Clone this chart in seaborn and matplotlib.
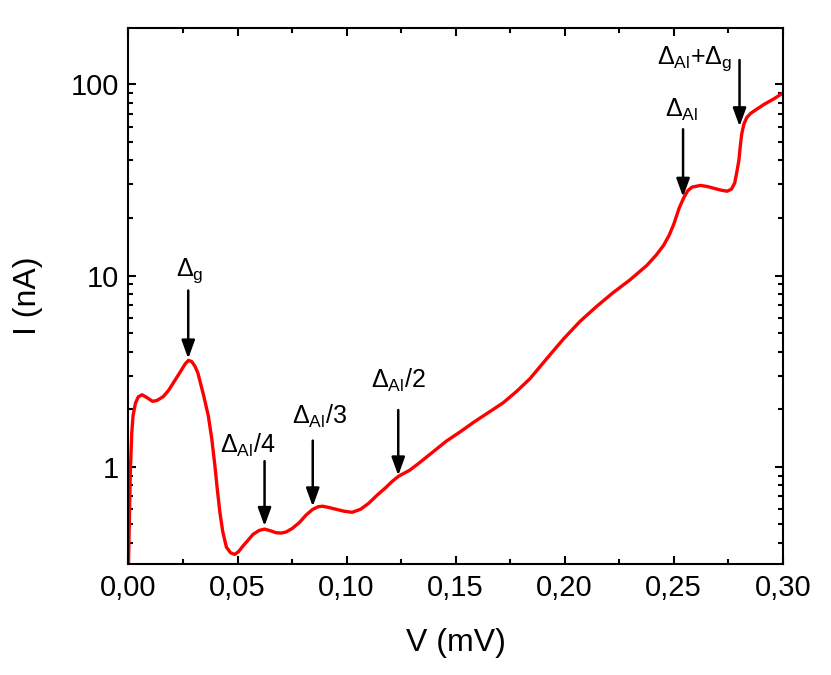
import matplotlib

matplotlib.use("Agg")
import matplotlib.pyplot as plt
import numpy as np
import pandas as pd
import seaborn as sns
from matplotlib.ticker import FixedLocator, FuncFormatter, LogLocator, NullFormatter

# I-V curve (V in mV, I in nA)
voltage = [
    0.0000, 0.0008, 0.0015, 0.0021, 0.0032, 0.0045, 0.0062, 0.0085, 0.0110, 0.0130,
    0.0160, 0.0185, 0.0206, 0.0235, 0.0260, 0.0275, 0.0290, 0.0305, 0.0318, 0.0328,
    0.0345, 0.0366, 0.0382, 0.0396, 0.0408, 0.0419, 0.0432, 0.0449, 0.0468, 0.0487,
    0.0505, 0.0525, 0.0550, 0.0571, 0.0600, 0.0624, 0.0650, 0.0677, 0.0700, 0.0723,
    0.0750, 0.0783, 0.0815, 0.0844, 0.0870, 0.0890, 0.0920, 0.0950, 0.0990, 0.1026,
    0.1065, 0.1102, 0.1140, 0.1178, 0.1210, 0.1239, 0.1290, 0.1330, 0.1390, 0.1457,
    0.1520, 0.1580, 0.1650, 0.1718, 0.1780, 0.1840, 0.1920, 0.1994, 0.2070, 0.2147,
    0.2220, 0.2300, 0.2377, 0.2420, 0.2454, 0.2480, 0.2500, 0.2525, 0.2546, 0.2565,
    0.2584, 0.2623, 0.2655, 0.2684, 0.2715, 0.2745, 0.2765, 0.2780, 0.2790, 0.2799,
    0.2805, 0.2812, 0.2822, 0.2835, 0.2853, 0.2880, 0.2914, 0.2960, 0.3000,
]
current = [
    0.30, 0.90, 1.50, 1.85, 2.15, 2.32, 2.38, 2.30, 2.20, 2.22,
    2.33, 2.52, 2.75, 3.10, 3.45, 3.60, 3.55, 3.35, 3.10, 2.80,
    2.35, 1.85, 1.40, 1.02, 0.75, 0.58, 0.46, 0.38, 0.355, 0.348,
    0.36, 0.385, 0.415, 0.443, 0.465, 0.472, 0.463, 0.452, 0.450, 0.456,
    0.475, 0.51, 0.56, 0.598, 0.618, 0.622, 0.612, 0.600, 0.585, 0.578,
    0.600, 0.645, 0.71, 0.775, 0.84, 0.893, 0.96, 1.04, 1.18, 1.36,
    1.52, 1.70, 1.92, 2.16, 2.48, 2.88, 3.70, 4.65, 5.75, 6.90,
    8.10, 9.50, 11.3, 12.8, 14.4, 16.3, 18.5, 22.5, 25.5, 27.8,
    29.0, 29.6, 29.2, 28.6, 28.0, 27.6, 28.3, 30.5, 35.0, 40.0,
    47.0, 55.0, 62.0, 67.0, 70.5, 74.0, 78.5, 84.0, 90.0,
]

# gap features: label text, arrow x, arrow tail / tip current, label position
marker_labels = [
    r"$\Delta_{\mathrm{g}}$",
    r"$\Delta_{\mathrm{Al}}/4$",
    r"$\Delta_{\mathrm{Al}}/3$",
    r"$\Delta_{\mathrm{Al}}/2$",
    r"$\Delta_{\mathrm{Al}}$",
    r"$\Delta_{\mathrm{Al}}$+$\Delta_{\mathrm{g}}$",
]
marker_v = [0.0274, 0.0624, 0.0845, 0.1237, 0.2543, 0.2802]
marker_tail = [8.35, 1.07, 1.37, 1.98, 58.2, 134.0]
marker_tip = [3.68, 0.49, 0.62, 0.90, 25.8, 60.3]
label_v = [0.0282, 0.0548, 0.0878, 0.1236, 0.2538, 0.2595]
label_i = [10.6, 1.29, 1.84, 2.84, 73.8, 135.5]

x_ticks = [0.00, 0.05, 0.10, 0.15, 0.20, 0.25, 0.30]
y_ticks = [1, 10, 100]

df = pd.DataFrame({"V": voltage, "I": current})

sns.set_style("ticks")
plt.rcParams["font.family"] = ["Liberation Sans", "DejaVu Sans"]
plt.rcParams["mathtext.fontset"] = "custom"
plt.rcParams["mathtext.rm"] = "Liberation Sans"
plt.rcParams["mathtext.it"] = "Liberation Sans:italic"
plt.rcParams["mathtext.bf"] = "Liberation Sans:bold"
plt.rcParams["text.color"] = "black"
plt.rcParams["axes.labelcolor"] = "black"

fig = plt.figure(figsize=(8.31, 6.75), dpi=100)
ax = fig.add_axes([0.1546, 0.1644, 0.7873, 0.7941])

sns.lineplot(data=df, x="V", y="I", color="#ff0000", linewidth=2.4, ax=ax, sort=False)

ax.set_yscale("log")
ax.set_xlim(0, 0.30)
ax.set_ylim(0.31, 197)

ax.xaxis.set_major_locator(FixedLocator(x_ticks))
ax.xaxis.set_minor_locator(FixedLocator(np.arange(0.025, 0.3, 0.05)))
ax.xaxis.set_major_formatter(FuncFormatter(lambda v, _: f"{v:.2f}".replace(".", ",")))
ax.yaxis.set_major_locator(FixedLocator(y_ticks))
ax.yaxis.set_minor_locator(LogLocator(base=10, subs=np.arange(2, 10)))
ax.yaxis.set_major_formatter(FuncFormatter(lambda v, _: f"{v:g}"))
ax.yaxis.set_minor_formatter(NullFormatter())

ax.tick_params(which="both", direction="in", top=True, right=True, width=1.5,
               colors="black", labelcolor="black")
ax.tick_params(which="major", length=6, labelsize=21, pad=7)
ax.tick_params(which="minor", length=3.5)
for spine in ax.spines.values():
    spine.set_linewidth(1.5)
    spine.set_color("black")

ax.set_xlabel("V (mV)", fontsize=23, labelpad=19)
ax.set_ylabel("I (nA)", fontsize=23, labelpad=20)

for text, v, tail, tip, lv, li in zip(marker_labels, marker_v, marker_tail, marker_tip, label_v, label_i):
    ax.annotate(
        "",
        xy=(v, tip),
        xytext=(v, tail),
        arrowprops=dict(arrowstyle="-|>,head_length=0.55,head_width=0.2", color="black",
                        linewidth=1.8, mutation_scale=20, shrinkA=0, shrinkB=0),
    )
    ax.text(lv, li, text, fontsize=18, ha="center", va="center")

fig.savefig("out.png", dpi=100)
